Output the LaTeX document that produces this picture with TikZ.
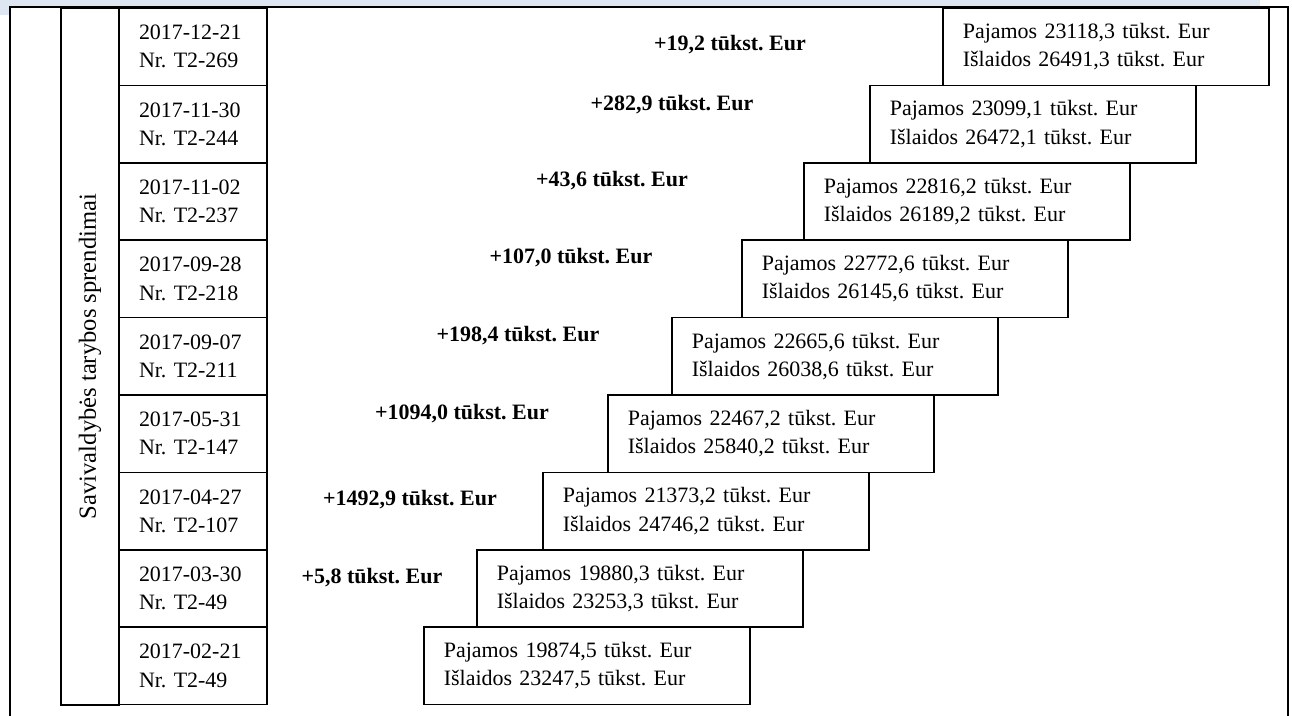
\documentclass[tikz,border=0pt]{standalone}
\usepackage{fontspec}
\setmainfont{Liberation Serif}
\definecolor{bandblue}{RGB}{221,230,241}
\begin{document}
\frenchspacing
\fontsize{12.5pt}{16pt}\selectfont
\begin{tikzpicture}[
    x=0.02cm, y=-0.02cm,
    line width=0.9pt,
    datebox/.style={
        draw,
        minimum width=2.96cm,
        minimum height=1.548cm,
        text width=2.16cm,
        inner xsep=0.4cm, inner ysep=0pt,
        align=left
    },
    sumbox/.style={
        draw, fill=white, anchor=west,
        minimum width=6.52cm,
        minimum height=1.548cm,
        text width=5.72cm,
        inner xsep=0.4cm, inner ysep=0pt,
        align=left
    },
    gain/.style={font=\bfseries}
]
    \useasboundingbox (0,0) rectangle (1292,716);
    \fill[bandblue] (0,0) rectangle (1260,15);
    \fill[white] (10,7) rectangle (1288,716);
    \draw (10,716) -- (10,7) -- (1288,7) -- (1288,716);

    % sprendimai
    \node[draw, rotate=90, minimum width=13.94cm, minimum height=1.16cm,
        inner sep=0pt, font=\fontsize{14pt}{16pt}\selectfont]
        (side) at (90,356.5) {Savivaldybės tarybos sprendimai};

    \node[datebox] (d1221) at (193,46.7)  {2017-12-21\\Nr. T2-269};
    \node[datebox] (d1130) at (193,124.1) {2017-11-30\\Nr. T2-244};
    \node[datebox] (d1102) at (193,201.5) {2017-11-02\\Nr. T2-237};
    \node[datebox] (d0928) at (193,278.9) {2017-09-28\\Nr. T2-218};
    \node[datebox] (d0907) at (193,356.3) {2017-09-07\\Nr. T2-211};
    \node[datebox] (d0531) at (193,433.7) {2017-05-31\\Nr. T2-147};
    \node[datebox] (d0427) at (193,511.1) {2017-04-27\\Nr. T2-107};
    \node[datebox] (d0330) at (193,588.5) {2017-03-30\\Nr. T2-49};
    \node[datebox] (d0221) at (193,665.9) {2017-02-21\\Nr. T2-49};

    % biudzetas
    \node[sumbox] (s1221) at (942,46.7)
        {Pajamos 23118,3 tūkst. Eur\\Išlaidos 26491,3 tūkst. Eur};
    \node[sumbox] (s1130) at (869,124.1)
        {Pajamos 23099,1 tūkst. Eur\\Išlaidos 26472,1 tūkst. Eur};
    \node[sumbox] (s1102) at (803,201.5)
        {Pajamos 22816,2 tūkst. Eur\\Išlaidos 26189,2 tūkst. Eur};
    \node[sumbox] (s0928) at (741,278.9)
        {Pajamos 22772,6 tūkst. Eur\\Išlaidos 26145,6 tūkst. Eur};
    \node[sumbox] (s0907) at (671,356.3)
        {Pajamos 22665,6 tūkst. Eur\\Išlaidos 26038,6 tūkst. Eur};
    \node[sumbox] (s0531) at (607,433.7)
        {Pajamos 22467,2 tūkst. Eur\\Išlaidos 25840,2 tūkst. Eur};
    \node[sumbox] (s0427) at (542,511.1)
        {Pajamos 21373,2 tūkst. Eur\\Išlaidos 24746,2 tūkst. Eur};
    \node[sumbox] (s0330) at (476,588.5)
        {Pajamos 19880,3 tūkst. Eur\\Išlaidos 23253,3 tūkst. Eur};
    \node[sumbox] (s0221) at (423,665.9)
        {Pajamos 19874,5 tūkst. Eur\\Išlaidos 23247,5 tūkst. Eur};

    % pokyciai
    \node[gain] (g1221) at (730,45)  {+19,2 tūkst. Eur};
    \node[gain] (g1130) at (672,105) {+282,9 tūkst. Eur};
    \node[gain] (g1102) at (612,181) {+43,6 tūkst. Eur};
    \node[gain] (g0928) at (571,258) {+107,0 tūkst. Eur};
    \node[gain] (g0907) at (518,336) {+198,4 tūkst. Eur};
    \node[gain] (g0531) at (462,414) {+1094,0 tūkst. Eur};
    \node[gain] (g0427) at (410,500) {+1492,9 tūkst. Eur};
    \node[gain] (g0330) at (372,578) {+5,8 tūkst. Eur};
\end{tikzpicture}
\end{document}
